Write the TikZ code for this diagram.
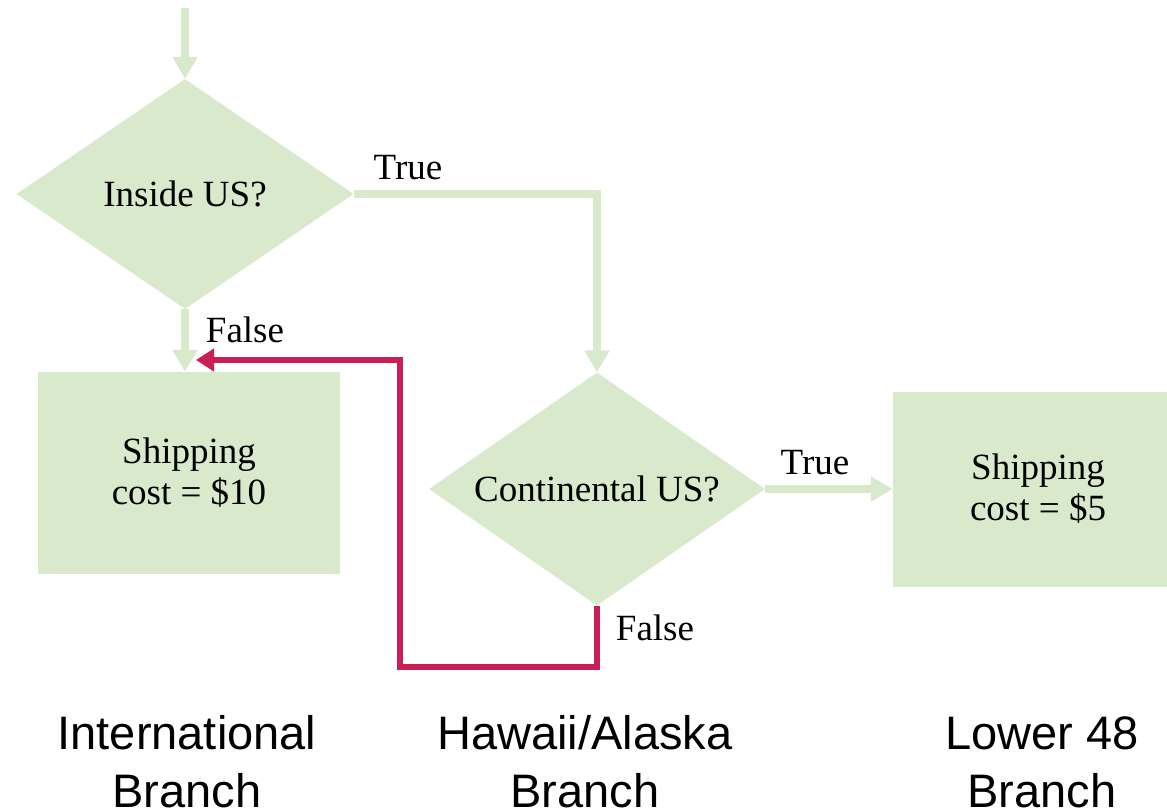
\documentclass[tikz,border=0pt]{standalone}
\usepackage{fontspec}
\setmainfont{Liberation Serif}
\newfontfamily\sansf{Liberation Sans}
\usetikzlibrary{shapes.geometric,arrows.meta}
\definecolor{boxgreen}{RGB}{217,234,204}
\definecolor{falsered}{RGB}{201,31,85}
\begin{document}
\begin{tikzpicture}[x=1pt,y=-1pt,
  decision/.style={diamond,fill=boxgreen,inner sep=0pt,aspect=1.48,
    minimum width=337pt,minimum height=230pt,font=\fontsize{37}{40}\selectfont},
  action/.style={rectangle,fill=boxgreen,inner sep=0pt,align=center,
    font=\fontsize{37}{41}\selectfont},
  lbl/.style={font=\fontsize{37}{40}\selectfont,inner sep=0pt},
  branch/.style={font=\sansf\fontsize{47}{58}\selectfont,align=center,inner sep=0pt},
  garrow/.style={draw=boxgreen,line width=8pt,-{Triangle[width=24pt,length=22pt]}},
  rarrow/.style={draw=falsered,line width=6pt,-{Triangle[width=22pt,length=18pt]}}
]
\useasboundingbox (0,0) rectangle (1167,807);
\node[decision] (d1) at (185,194) {Inside US?};
\node[decision,minimum width=336pt,minimum height=233pt] (d2) at (597,489) {Continental US?};
\node[action,minimum width=302pt,minimum height=202pt] (b1) at (189,473) {Shipping\\cost = \$10};
\node[action,minimum width=290pt,minimum height=195pt] (b3) at (1038,489) {Shipping\\cost = \$5};
\coordinate (start) at (185,8);
\coordinate (redend) at (196,360);
\draw[garrow] (start) -- (d1.north);
\draw[garrow] (d1.south) -- (d1.south |- b1.north);
\draw[garrow] (d1.east) -| (d2.north);
\draw[garrow] (d2.east) -- (d2.east -| b3.west);
\draw[rarrow] (d2.south) -- (597,667) -| (400,360) -- (redend);
\node[lbl] (t1) at (408,168) {True};
\node[lbl] (f1) at (245,330) {False};
\node[lbl] (t2) at (815,463) {True};
\node[lbl] (f2) at (655,628) {False};
\node[branch] (n1) at (187,762) {International\\Branch};
\node[branch] (n2) at (585,762) {Hawaii/Alaska\\Branch};
\node[branch] (n3) at (1042,762) {Lower 48\\Branch};
\end{tikzpicture}
\end{document}
